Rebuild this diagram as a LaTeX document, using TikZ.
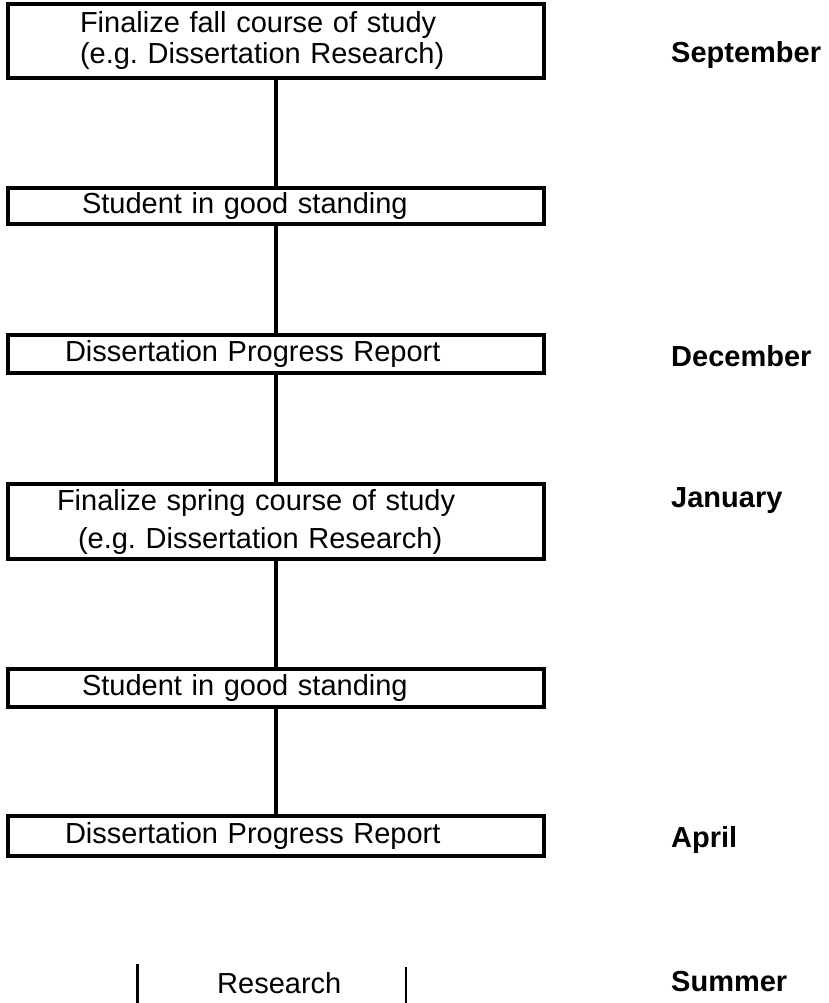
\documentclass[tikz,border=0pt]{standalone}
\usepackage{fontspec}
\setmainfont{Liberation Sans}
\usetikzlibrary{positioning}
\tikzset{
    stage/.style = {rectangle,
                    fill=white,
                    draw=black,
                    text=black,
                    line width=3.3pt,
                    inner sep=0pt,
                    outer sep=0pt,
                    align=left,
                    minimum width=536pt,
                    font=\fontsize{29pt}{35pt}\selectfont},
    month/.style = {anchor=base west,
                    text=black,
                    inner sep=0pt,
                    font=\fontsize{29pt}{35pt}\selectfont\bfseries},
    plain/.style = {anchor=base west,
                    text=black,
                    inner sep=0pt,
                    font=\fontsize{29pt}{35pt}\selectfont},
    link/.style  = {draw=black,
                    line width=3.3pt},
    bar/.style   = {draw=black,
                    line width=2.7pt}
}

\begin{document}
\begin{tikzpicture}[x=1pt,y=-1pt]
    \useasboundingbox (0,0) rectangle (828,1003);
    \node[stage, text width=392pt, minimum height=74pt, font=\fontsize{29pt}{31pt}\selectfont] (fall) at (276,41) {Finalize fall course of study\\(e.g.\ Dissertation Research)};
    \node[stage, text width=388pt, minimum height=36pt] (good1) [below=110pt of fall]  {Student in good standing};
    \node[stage, text width=422pt, minimum height=38pt] (rep1)  [below=111pt of good1] {Dissertation Progress Report};
    \node[stage, text width=438pt, minimum height=75pt, font=\fontsize{29pt}{38pt}\selectfont] (spring) [below=111pt of rep1] {Finalize spring course of study\\\hspace*{21pt}(e.g.\ Dissertation Research)};
    \node[stage, text width=388pt, minimum height=38pt] (good2) [below=110pt of spring]{Student in good standing};
    \node[stage, text width=422pt, minimum height=40pt] (rep2)  [below=109pt of good2] {Dissertation Progress Report};

    \path [link] (fall)   edge (good1)
                 (good1)  edge (rep1)
                 (rep1)   edge (spring)
                 (spring) edge (good2)
                 (good2)  edge (rep2);

    \node[month] (sep) at (671,63)  {September};
    \node[month] (dec) at (671,366) {December};
    \node[month] (jan) at (671,507) {January};
    \node[month] (apr) at (671,847) {April};
    \node[month] (sum) at (671,991) {Summer};

    \node[plain] (res) at (217,993) {Research};
    \coordinate (la) at (137.5,964);
    \coordinate (lb) at (137.5,1003);
    \coordinate (ra) at (406,967);
    \coordinate (rb) at (406,1003);
    \draw[bar] (la) -- (lb);
    \draw[bar] (ra) -- (rb);
\end{tikzpicture}
\end{document}
